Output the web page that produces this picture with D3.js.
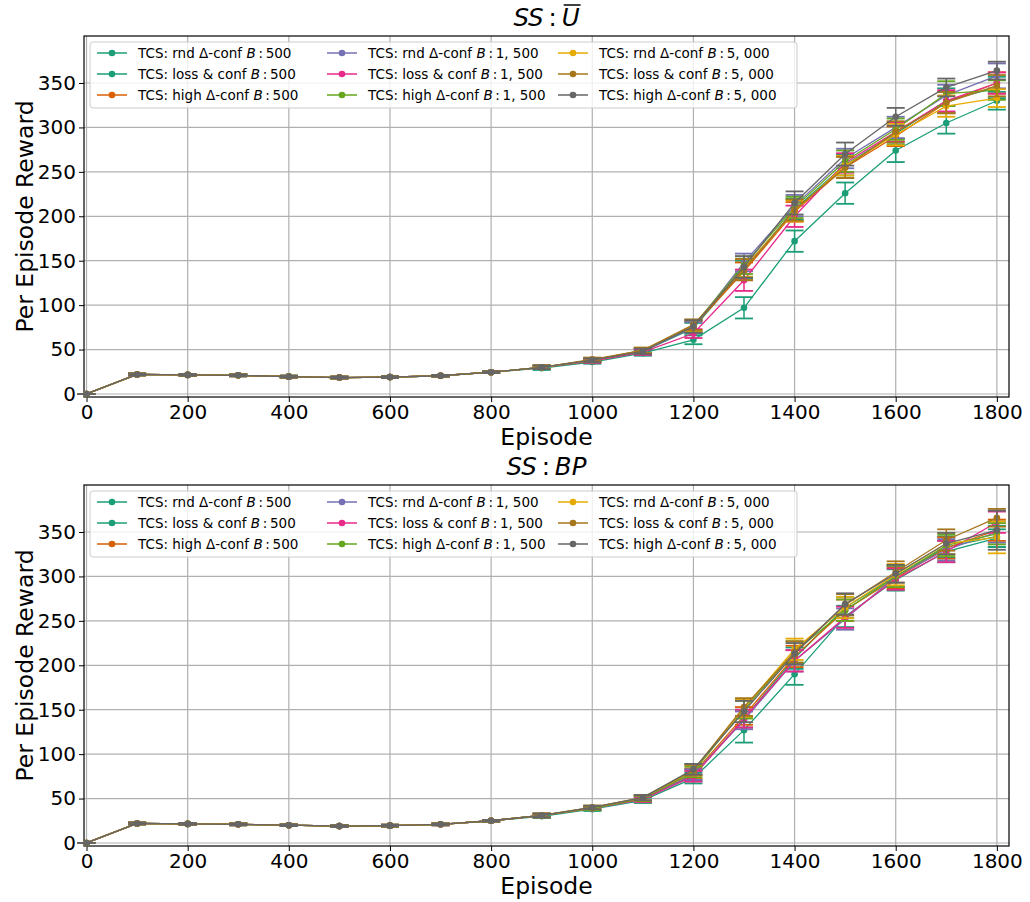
<!DOCTYPE html>
<html>
<head>
<meta charset="utf-8">
<script src="https://cdn.jsdelivr.net/npm/d3@7"></script>
<style>
  body { margin: 0; background: #fff; }
  text { font-family: "DejaVu Sans", sans-serif; }
</style>
</head>
<body>
<script>
// episodes on the x axis
var episodes = [0,100,200,300,400,500,600,700,800,900,1000,1100,1200,1300,1400,1500,1600,1700,1800];
var xTicks = [0,200,400,600,800,1000,1200,1400,1600,1800];
var yTicks = [0,50,100,150,200,250,300,350];

// legend entries: method, buffer size
var methods = ["rnd \u0394-conf", "loss & conf", "high \u0394-conf"];
var buffers = ["500", "1, 500", "5, 000"];
var colors = ["#1b9e77","#1b9e77","#d95f02","#7570b3","#e7298a","#66a61e","#e6ab02","#a6761d","#666666"];

// SS : U-bar  (rows: rnd500, loss500, high500, rnd1500, loss1500, high1500, rnd5000, loss5000, high5000)
var ubarMean = [
  [0,22,21.5,21,19.5,18.5,19,20.5,24.5,29,36,46,61,97,172,226,274,305,330],
  [0,22,21.5,21,19.5,18.5,19,20.5,24.5,30,38,48,74,140,208,258,293,330,345],
  [0,22,21.5,21,19.5,18.5,19,20.5,24.5,30,38,49,76,138,205,255,290,328,350],
  [0,22,21.5,21,19.5,18.5,19,20.5,24.5,30,38,48,75,148,212,265,300,336,358],
  [0,22,21.5,21,19.5,18.5,19,20.5,24.5,30,37,47,68,128,200,260,295,330,350],
  [0,22,21.5,21,19.5,18.5,19,20.5,24.5,30,38,49,77,145,210,262,298,338,342],
  [0,22,21.5,21,19.5,18.5,19,20.5,24.5,30,38,49,77,142,206,257,292,324,333],
  [0,22,21.5,21,19.5,18.5,19,20.5,24.5,30,39,49,78,140,207,255,295,328,347],
  [0,22,21.5,21,19.5,18.5,19,20.5,24.5,30,38,48,76,143,215,270,312,345,364]
];
var ubarErr = [
  [0,1,1,1,1,1,1,1,1,2,2,3,5,12,12,12,13,12,10],
  [0,1,1,1,1,1,1,1,1,2,2,3,6,10,12,12,12,14,12],
  [0,1,1,1,1,1,1,1,1,2,2,3,6,10,11,12,11,12,12],
  [0,1,1,1,1,1,1,1,1,2,2,3,6,10,12,11,12,12,14],
  [0,1,1,1,1,1,1,1,1,2,2,3,5,12,12,11,11,12,12],
  [0,1,1,1,1,1,1,1,1,2,2,3,6,10,12,12,12,14,11],
  [0,1,1,1,1,1,1,1,1,2,2,3,6,10,12,11,12,12,10],
  [0,1,1,1,1,1,1,1,1,2,2,3,6,12,12,12,12,12,12],
  [0,1,1,1,1,1,1,1,1,2,2,3,7,12,13,13,10,10,10]
];

// SS : BP
var bpMean = [
  [0,22,21.5,21,20,19,19.5,21,25,30,38,48,73,127,190,255,296,328,343],
  [0,22,21.5,21,20,19,19.5,21,25,31,39,50,76,140,208,265,300,333,345],
  [0,22,21.5,21,20,19,19.5,21,25,31,39,50,78,143,210,262,298,332,352],
  [0,22,21.5,21,20,19,19.5,21,25,31,39,49,77,138,205,252,300,330,350],
  [0,22,21.5,21,20,19,19.5,21,25,31,39,49,75,140,205,254,297,328,361],
  [0,22,21.5,21,20,19,19.5,21,25,31,39,50,80,150,215,262,300,335,348],
  [0,22,21.5,21,20,19,19.5,21,25,31,40,51,82,152,218,265,302,337,344],
  [0,22,21.5,21,20,19,19.5,21,25,31,40,51,82,153,215,268,305,341,366],
  [0,22,21.5,21,20,19,19.5,21,25,31,40,51,83,148,213,269,303,337,352]
];
var bpErr = [
  [0,1,1,1,1,1,1,1,1,2,2,3,6,14,12,12,12,12,10],
  [0,1,1,1,1,1,1,1,1,2,2,3,6,10,12,12,12,12,12],
  [0,1,1,1,1,1,1,1,1,2,2,3,6,10,12,12,12,12,12],
  [0,1,1,1,1,1,1,1,1,2,2,3,6,10,12,12,12,12,12],
  [0,1,1,1,1,1,1,1,1,2,2,3,6,10,12,12,12,12,12],
  [0,1,1,1,1,1,1,1,1,2,2,3,6,10,12,12,12,12,12],
  [0,1,1,1,1,1,1,1,1,2,2,3,6,10,12,12,12,12,18],
  [0,1,1,1,1,1,1,1,1,2,2,3,6,10,12,12,12,12,10],
  [0,1,1,1,1,1,1,1,1,2,2,3,6,12,12,12,10,12,22]
];

var svg = d3.select("body").append("svg").attr("width", 1030).attr("height", 902);

var left = 84, right = 1009, axH = 361;

var x = d3.scaleLinear().domain([-5, 1824]).range([left, right]);

function drawPanel(top, titleParts, mean, err) {
  var y = d3.scaleLinear().domain([-3.4, 402.9]).range([top + axH, top]);
  var g = svg.append("g");

  // grid
  g.append("g").selectAll("line").data(xTicks).enter().append("line")
    .attr("x1", d => x(d)).attr("x2", d => x(d))
    .attr("y1", top).attr("y2", top + axH)
    .attr("stroke", "#b0b0b0").attr("stroke-width", 1.2);
  g.append("g").selectAll("line").data(yTicks).enter().append("line")
    .attr("x1", left).attr("x2", right)
    .attr("y1", d => y(d)).attr("y2", d => y(d))
    .attr("stroke", "#b0b0b0").attr("stroke-width", 1.2);

  // axes
  var xa = g.append("g").attr("transform", "translate(0," + (top + axH) + ")")
    .call(d3.axisBottom(x).tickValues(xTicks).tickSize(5).tickPadding(3).tickFormat(d3.format("d")));
  var ya = g.append("g").attr("transform", "translate(" + left + ",0)")
    .call(d3.axisLeft(y).tickValues(yTicks).tickSize(5).tickPadding(3).tickFormat(d3.format("d")));
  [xa, ya].forEach(function(a) {
    a.select(".domain").remove();
    a.selectAll("text").attr("font-size", 20).attr("fill", "#000")
      .attr("font-family", "DejaVu Sans");
    a.selectAll("line").attr("stroke", "#000").attr("stroke-width", 1);
  });
  g.append("rect").attr("x", left).attr("y", top).attr("width", right - left).attr("height", axH)
    .attr("fill", "none").attr("stroke", "#000").attr("stroke-width", 1.2);

  // series
  var line = d3.line().x((d, i) => x(episodes[i])).y(d => y(d));
  mean.forEach(function(vals, s) {
    var sg = g.append("g");
    var c = colors[s];
    var eb = sg.append("g").selectAll("g").data(vals).enter().append("g");
    eb.append("line")
      .attr("x1", (d, i) => x(episodes[i])).attr("x2", (d, i) => x(episodes[i]))
      .attr("y1", (d, i) => y(d - err[s][i])).attr("y2", (d, i) => y(d + err[s][i]))
      .attr("stroke", c).attr("stroke-width", 1.5);
    [-1, 1].forEach(function(sign) {
      eb.append("line")
        .attr("x1", (d, i) => x(episodes[i]) - 9).attr("x2", (d, i) => x(episodes[i]) + 9)
        .attr("y1", (d, i) => y(d + sign * err[s][i])).attr("y2", (d, i) => y(d + sign * err[s][i]))
        .attr("stroke", c).attr("stroke-width", 1.8);
    });
    sg.append("path").datum(vals).attr("d", line)
      .attr("fill", "none").attr("stroke", c).attr("stroke-width", 1.3);
    sg.append("g").selectAll("circle").data(vals).enter().append("circle")
      .attr("cx", (d, i) => x(episodes[i])).attr("cy", d => y(d))
      .attr("r", 3.3).attr("fill", c);
  });

  // title
  var cx = (left + right) / 2;
  var t = g.append("text").attr("x", cx).attr("y", top - 10)
    .attr("text-anchor", "middle").attr("font-size", 24.5);
  t.append("tspan").attr("font-style", "italic").text("SS");
  t.append("tspan").text("\u2009:\u2009");
  t.append("tspan").attr("font-style", "italic").text(titleParts);
  if (titleParts === "U") {
    var n = t.text().length;
    var ext = t.node().getExtentOfChar(n - 1);
    g.append("line").attr("x1", ext.x + 2).attr("x2", ext.x + ext.width + 1)
      .attr("y1", ext.y + 2).attr("y2", ext.y + 2)
      .attr("stroke", "#000").attr("stroke-width", 1.5);
  }

  // axis labels
  g.append("text").attr("x", cx).attr("y", top + axH + 48)
    .attr("text-anchor", "middle").attr("font-size", 23.5).text("Episode");
  g.append("text").attr("transform", "translate(33," + (top + axH / 2) + ") rotate(-90)")
    .attr("text-anchor", "middle").attr("font-size", 23.5).text("Per Episode Reward");

  // legend
  var lg = g.append("g");
  lg.append("rect").attr("x", 90).attr("y", top + 6).attr("width", 707).attr("height", 66)
    .attr("rx", 3).attr("fill", "#fff").attr("fill-opacity", 0.8)
    .attr("stroke", "#ccc").attr("stroke-width", 1);
  var colX = [97, 327, 558];
  for (var b = 0; b < 3; b++) {
    for (var m = 0; m < 3; m++) {
      var idx = b * 3 + m;
      var lx = colX[b], ly = top + 17 + m * 21;
      lg.append("line").attr("x1", lx).attr("x2", lx + 30).attr("y1", ly).attr("y2", ly)
        .attr("stroke", colors[idx]).attr("stroke-width", 1.5);
      lg.append("circle").attr("cx", lx + 15).attr("cy", ly).attr("r", 3.3).attr("fill", colors[idx]);
      var lt = lg.append("text").attr("x", lx + 41).attr("y", ly + 5).attr("font-size", 13.5);
      lt.append("tspan").text("TCS: " + methods[m] + " ");
      lt.append("tspan").attr("font-style", "italic").text("B");
      lt.append("tspan").text("\u2009:\u2009" + buffers[b]);
    }
  }
}

drawPanel(36, "U", ubarMean, ubarErr);
drawPanel(485, "BP", bpMean, bpErr);
</script>
</body>
</html>
